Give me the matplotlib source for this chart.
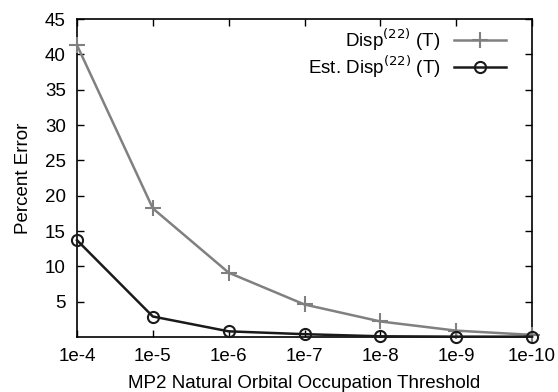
import matplotlib
matplotlib.use('Agg')
import matplotlib.pyplot as plt

plt.rcParams['font.family'] = ['Liberation Sans', 'DejaVu Sans']
plt.rcParams['font.size'] = 13.5

thresholds = ['1e-4', '1e-5', '1e-6', '1e-7', '1e-8', '1e-9', '1e-10']
disp_err = [41.3, 18.2, 9.1, 4.6, 2.2, 0.9, 0.3]
est_err = [13.7, 2.9, 0.8, 0.4, 0.1, 0.05, 0.05]

fig = plt.figure(figsize=(5.58, 3.92), dpi=100)
ax = fig.add_axes([77 / 558, 1 - 337 / 392, (532 - 77) / 558, (337 - 19) / 392])

x = list(range(len(thresholds)))
ax.plot(x, disp_err, color='#808080', marker='+', markersize=11.5, markeredgewidth=1.5,
        linewidth=1.8, label='Disp$^{(22)}$ (T)', clip_on=False, zorder=3)
ax.plot(x, est_err, color='#1a1a1a', marker='o', markersize=8, markerfacecolor='none',
        markeredgewidth=1.5, linewidth=1.8, label='Est. Disp$^{(22)}$ (T)', clip_on=False, zorder=4)

ax.set_xlim(0, len(thresholds) - 1)
ax.set_ylim(0, 45)
ax.set_xticks(x)
ax.set_xticklabels(thresholds)
ax.set_yticks([5, 10, 15, 20, 25, 30, 35, 40, 45])
ax.tick_params(direction='in', top=True, right=True, length=5, width=1, pad=8)
for s in ax.spines.values():
    s.set_linewidth(1.2)

ax.set_xlabel('MP2 Natural Orbital Occupation Threshold', labelpad=7)
ax.set_ylabel('Percent Error', labelpad=9)

ax.legend(loc='upper right', bbox_to_anchor=(0.96, 1.0), frameon=False, markerfirst=False,
          handlelength=2.8, borderaxespad=0, labelspacing=0.05, handletextpad=0.7)

fig.savefig('out.png', dpi=100)
